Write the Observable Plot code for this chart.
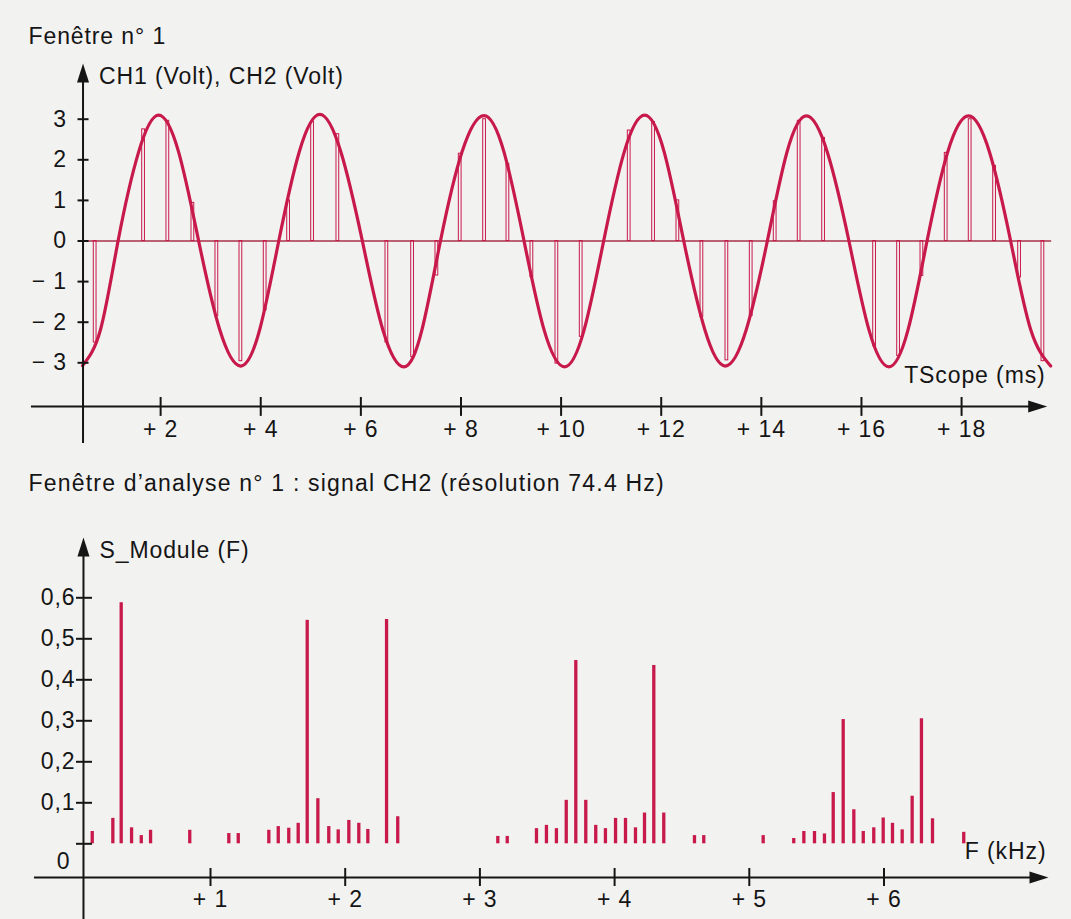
<!DOCTYPE html>
<html><head><meta charset="utf-8">
<script src="https://cdn.jsdelivr.net/npm/d3@7"></script>
<script src="https://cdn.jsdelivr.net/npm/@observablehq/plot@0.6"></script>
<style>
html,body{margin:0;padding:0;background:#f2f2f1;}
#page{width:1071px;height:919px;position:relative;overflow:hidden;background:#f2f2f1;}
#page svg{display:block;}
</style></head><body><div id="page"></div>
<script>
// ---------- data ----------
// Top window: continuous sine CH1 (ms, V)
const sineT = [0.44,0.80,1.15,1.56,1.96,2.36,2.76,3.18,3.60,3.98,4.36,4.77,5.18,5.60,6.03,6.44,6.86,7.22,7.59,8.02,8.46,8.86,9.26,9.66,10.07,10.46,10.85,11.26,11.67,12.06,12.45,12.87,13.28,13.70,14.12,14.51,14.90,15.32,15.75,16.15,16.55,16.93,17.31,17.72,18.14,18.56,18.98,19.38,19.78];
const sineV = [-3.07,-2.18,0,2.19,3.10,2.19,0,-2.18,-3.08,-2.18,0,2.20,3.12,2.20,0,-2.19,-3.10,-2.19,0,2.19,3.09,2.19,0,-2.19,-3.10,-2.19,0,2.19,3.10,2.19,0,-2.18,-3.08,-2.18,0,2.18,3.08,2.18,0,-2.19,-3.10,-2.19,0,2.18,3.08,2.18,0,-2.18,-3.08];
// Sampled pulses CH2 (ms, V)
const sampleT = [0.665,1.632,2.117,2.617,3.096,3.576,4.061,4.529,5.008,5.513,6.492,7.006,7.491,7.957,8.444,8.91,9.389,9.888,10.374,11.333,11.82,12.305,12.785,13.284,13.77,14.249,14.728,15.216,16.235,16.714,17.18,17.665,18.144,18.632,19.131,19.597];
const sampleV = [-2.50,2.75,2.96,0.94,-1.85,-2.96,-1.71,1.00,2.94,2.63,-2.50,-2.86,-0.85,2.15,3.00,1.90,-0.89,-3.02,-2.36,2.72,2.93,1.00,-1.87,-2.94,-1.85,0.98,2.96,2.54,-2.59,-2.83,-0.86,2.17,3.00,1.85,-0.90,-2.96];
// Spectrum (kHz, module)
const specF = [0.122,0.275,0.337,0.414,0.486,0.555,0.846,1.136,1.206,1.433,1.503,1.581,1.651,1.718,1.797,1.878,1.948,2.027,2.101,2.168,2.307,2.390,3.133,3.203,3.420,3.494,3.568,3.641,3.712,3.786,3.860,3.932,4.007,4.081,4.155,4.222,4.291,4.365,4.593,4.662,5.103,5.330,5.405,5.484,5.558,5.623,5.697,5.776,5.846,5.924,5.994,6.063,6.135,6.209,6.278,6.360,6.592];
const specA = [0.030,0.062,0.588,0.039,0.020,0.033,0.033,0.025,0.025,0.033,0.042,0.038,0.050,0.545,0.110,0.042,0.034,0.057,0.050,0.035,0.547,0.066,0.018,0.018,0.037,0.045,0.037,0.106,0.447,0.106,0.045,0.037,0.062,0.062,0.039,0.075,0.435,0.075,0.020,0.020,0.020,0.013,0.030,0.030,0.024,0.125,0.303,0.083,0.030,0.039,0.063,0.050,0.034,0.116,0.305,0.061,0.028];
// Ticks & labels
const timeTicks = [2,4,6,8,10,12,14,16,18];
const voltTicks = [-3,-2,-1,0,1,2,3];
const voltLabels = ["− 3","− 2","− 1","0","1","2","3"];
const freqTicks = [1,2,3,4,5,6];
const moduleTicks = [0.1,0.2,0.3,0.4,0.5,0.6];
const moduleLabels = ["0,1","0,2","0,3","0,4","0,5","0,6"];
const title1 = "Fenêtre n° 1";
const ylab1 = "CH1 (Volt), CH2 (Volt)";
const xlab1 = "TScope (ms)";
const title2 = "Fenêtre d’analyse n° 1 : signal CH2 (résolution 74.4 Hz)";
const ylab2 = "S_Module (F)";
const xlab2 = "F (kHz)";

// ---------- style ----------
const INK = "#151515";
const RED = "#c8194b";
const FONT = "'Liberation Sans', Arial, Helvetica, sans-serif";
const FS = 23;
const arrowUp = {draw(c){ c.moveTo(0,0); c.lineTo(6,19); c.lineTo(-6,19); c.closePath(); }};
const arrowRight = {draw(c){ c.moveTo(0,0); c.lineTo(-19,6); c.lineTo(-19,-6); c.closePath(); }};

const sine = sineT.map((t,i)=>({t, v: sineV[i]}));
const samples = sampleT.map((t,i)=>({t, v: sampleV[i]}));
const spec = specF.map((f,i)=>({f, a: specA[i]}));

const baseStyle = {background: "transparent", fontFamily: FONT, color: INK, overflow: "visible", letterSpacing: "0.9px"};

// ---------- top chart ----------
const T_AXIS = 0.45, V_XAXIS = -4.076;
const chartTop = Plot.plot({
  width: 1071, height: 450, margin: 0,
  style: baseStyle,
  x: {type: "linear", domain: [0, 20], range: [60, 1061.2], axis: null},
  y: {type: "linear", domain: [-3, 3], range: [362.3, 118.7], axis: null},
  marks: [
    Plot.ruleY([0], {x1: T_AXIS, x2: 19.8, stroke: "#a8304a", strokeWidth: 1.3}),
    Plot.rect(samples, {x1: "t", x2: d => d.t + 0.055, y1: 0, y2: "v", stroke: RED, strokeWidth: 1, fill: "none"}),
    Plot.line(sine, {x: "t", y: "v", curve: "natural", stroke: RED, strokeWidth: 3.2}),
    // y axis
    Plot.ruleX([T_AXIS], {y1: -4.99, y2: 4.1, stroke: INK, strokeWidth: 2}),
    Plot.dot([T_AXIS], {x: d => d, y: 4.37, symbol: arrowUp, fill: INK, stroke: "none"}),
    Plot.ruleY(voltTicks, {y: d => d, x1: T_AXIS - 0.1, x2: T_AXIS + 0.12, stroke: INK, strokeWidth: 2}),
    Plot.text(voltTicks, {x: T_AXIS, y: d => d, text: (d, i) => voltLabels[i], textAnchor: "end", lineAnchor: "middle", dx: -16, fontSize: FS, fill: INK}),
    Plot.text([ylab1], {x: T_AXIS, y: 4.04, text: d => d, textAnchor: "start", lineAnchor: "middle", dx: 16, fontSize: FS, fill: INK}),
    // x axis
    Plot.ruleY([V_XAXIS], {x1: -0.58, x2: 19.5, stroke: INK, strokeWidth: 2}),
    Plot.dot([V_XAXIS], {x: 19.71, y: d => d, symbol: arrowRight, fill: INK, stroke: "none"}),
    Plot.ruleX(timeTicks, {x: d => d, y1: -3.855, y2: -4.32, stroke: INK, strokeWidth: 2}),
    Plot.text(timeTicks, {x: d => d, y: V_XAXIS, text: d => "+ " + d, textAnchor: "middle", lineAnchor: "middle", dy: 23, fontSize: FS, fill: INK}),
    Plot.text([xlab1], {x: 19.68, y: -3.31, text: d => d, textAnchor: "end", lineAnchor: "middle", fontSize: FS, fill: INK}),
    // title
    Plot.text([title1], {frameAnchor: "top-left", dx: 28, dy: 36, text: d => d, textAnchor: "start", lineAnchor: "middle", fontSize: FS, fill: INK})
  ]
});

// ---------- bottom chart ----------
const F_AXIS = 0.057, A_XAXIS = -0.0822;
const chartBottom = Plot.plot({
  width: 1071, height: 469, margin: 0,
  style: baseStyle,
  x: {type: "linear", domain: [0, 7], range: [75.3, 1018.2], axis: null},
  y: {type: "linear", domain: [0, 0.6], range: [393.3, 147.3], axis: null},
  marks: [
    Plot.ruleX(spec, {x: "f", y1: 0, y2: "a", stroke: RED, strokeWidth: 3.3}),
    // y axis
    Plot.ruleX([F_AXIS], {y1: -0.2, y2: 0.72, stroke: INK, strokeWidth: 2}),
    Plot.dot([F_AXIS], {x: d => d, y: 0.747, symbol: arrowUp, fill: INK, stroke: "none"}),
    Plot.ruleY([0, ...moduleTicks], {y: d => d, x1: 0.005, x2: 0.124, stroke: INK, strokeWidth: 2}),
    Plot.text(moduleTicks, {x: F_AXIS, y: d => d, text: (d, i) => moduleLabels[i], textAnchor: "end", lineAnchor: "middle", dx: -8, fontSize: FS, fill: INK}),
    Plot.text([0], {x: F_AXIS, y: d => d, text: () => "0", textAnchor: "end", lineAnchor: "middle", dx: -13, dy: 18, fontSize: FS, fill: INK}),
    Plot.text([ylab2], {x: F_AXIS, y: 0.715, text: d => d, textAnchor: "start", lineAnchor: "middle", dx: 16, fontSize: FS, fill: INK}),
    // x axis
    Plot.ruleY([A_XAXIS], {x1: -0.307, x2: 7.1, stroke: INK, strokeWidth: 2}),
    Plot.dot([A_XAXIS], {x: 7.221, y: d => d, symbol: arrowRight, fill: INK, stroke: "none"}),
    Plot.ruleX(freqTicks, {x: d => d, y1: -0.0603, y2: -0.1041, stroke: INK, strokeWidth: 2}),
    Plot.text(freqTicks, {x: d => d, y: A_XAXIS, text: d => "+ " + d, textAnchor: "middle", lineAnchor: "middle", dy: 22.3, fontSize: FS, fill: INK}),
    Plot.text([xlab2], {x: 7.206, y: -0.02, text: d => d, textAnchor: "end", lineAnchor: "middle", fontSize: FS, fill: INK}),
    // title
    Plot.text([title2], {frameAnchor: "top-left", dx: 28, dy: 33.5, text: d => d, textAnchor: "start", lineAnchor: "middle", fontSize: FS, fill: INK})
  ]
});
chartBottom.querySelectorAll("text").forEach(t => { if (t.textContent === title2) t.style.letterSpacing = "1.2px"; });

const page = document.getElementById("page");
page.appendChild(chartTop);
page.appendChild(chartBottom);
</script></body></html>
